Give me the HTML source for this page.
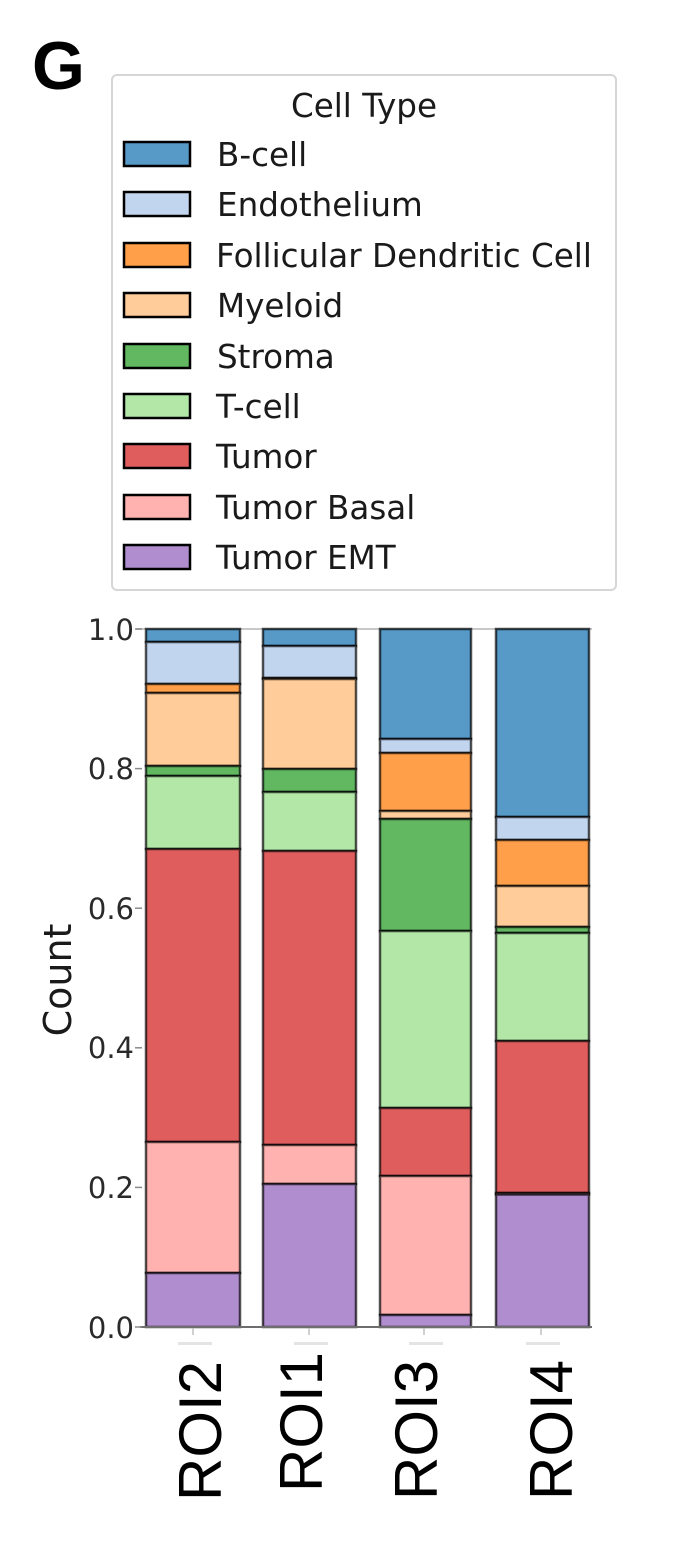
<!DOCTYPE html>
<html>
<head>
<meta charset="utf-8">
<style>
html,body{margin:0;padding:0;background:#fff;}
svg{display:block;}
</style>
</head>
<body>
<svg width="688" height="1545" viewBox="0 0 688 1545" xmlns="http://www.w3.org/2000/svg">
<rect width="688" height="1545" fill="#fff"/>

<!-- Panel letter -->
<text x="32" y="89" font-family="Liberation Sans, Arial, sans-serif" font-weight="bold" font-size="68" fill="#000">G</text>

<!-- Legend -->
<rect x="112" y="75" width="504" height="515" rx="5" ry="5" fill="#fff" stroke="#d6d6d6" stroke-width="2"/>
<g font-family="DejaVu Sans, Liberation Sans, sans-serif" font-size="32.6" fill="#1a1a1a">
<text x="364" y="117" text-anchor="middle">Cell Type</text>
<g stroke="#000" stroke-width="2.5">
<rect x="124" y="142" width="66" height="24" fill="#5799c7"/>
<rect x="124" y="192" width="66" height="24" fill="#c2d5ee"/>
<rect x="124" y="243" width="66" height="24" fill="#ff9f4a"/>
<rect x="124" y="293" width="66" height="24" fill="#ffcc9a"/>
<rect x="124" y="344" width="66" height="24" fill="#61b861"/>
<rect x="124" y="394" width="66" height="24" fill="#b2e7a7"/>
<rect x="124" y="444" width="66" height="24" fill="#e05d5e"/>
<rect x="124" y="495" width="66" height="24" fill="#ffb2b0"/>
<rect x="124" y="545" width="66" height="24" fill="#af8dce"/>
</g>
<text x="217" y="166">B-cell</text>
<text x="217" y="216">Endothelium</text>
<text x="216" y="267">Follicular Dendritic Cell</text>
<text x="217" y="317">Myeloid</text>
<text x="217" y="368">Stroma</text>
<text x="216" y="418">T-cell</text>
<text x="216" y="468">Tumor</text>
<text x="216" y="519">Tumor Basal</text>
<text x="216" y="569">Tumor EMT</text>
</g>

<!-- Axes frame lines -->
<line x1="136" y1="629" x2="592" y2="629" stroke="#c8c8c8" stroke-width="2"/>

<!-- Bars -->
<g stroke="rgba(0,0,0,0.68)" stroke-width="2.5">
<!-- ROI2 -->
<rect x="146" y="629" width="94" height="13" fill="#5799c7"/>
<rect x="146" y="642" width="94" height="42" fill="#c2d5ee"/>
<rect x="146" y="684" width="94" height="9" fill="#ff9f4a"/>
<rect x="146" y="693" width="94" height="73" fill="#ffcc9a"/>
<rect x="146" y="766" width="94" height="10" fill="#61b861"/>
<rect x="146" y="776" width="94" height="73" fill="#b2e7a7"/>
<rect x="146" y="849" width="94" height="293" fill="#e05d5e"/>
<rect x="146" y="1142" width="94" height="131" fill="#ffb2b0"/>
<rect x="146" y="1273" width="94" height="54" fill="#af8dce"/>
<!-- ROI1 -->
<rect x="263" y="629" width="93" height="17" fill="#5799c7"/>
<rect x="263" y="646" width="93" height="32" fill="#c2d5ee"/>
<rect x="263" y="678" width="93" height="1" fill="#ff9f4a"/>
<rect x="263" y="679" width="93" height="90" fill="#ffcc9a"/>
<rect x="263" y="769" width="93" height="23" fill="#61b861"/>
<rect x="263" y="792" width="93" height="59" fill="#b2e7a7"/>
<rect x="263" y="851" width="93" height="294" fill="#e05d5e"/>
<rect x="263" y="1145" width="93" height="39" fill="#ffb2b0"/>
<rect x="263" y="1184" width="93" height="143" fill="#af8dce"/>
<!-- ROI3 -->
<rect x="380" y="629" width="91" height="110" fill="#5799c7"/>
<rect x="380" y="739" width="91" height="14" fill="#c2d5ee"/>
<rect x="380" y="753" width="91" height="58" fill="#ff9f4a"/>
<rect x="380" y="811" width="91" height="8" fill="#ffcc9a"/>
<rect x="380" y="819" width="91" height="112" fill="#61b861"/>
<rect x="380" y="931" width="91" height="177" fill="#b2e7a7"/>
<rect x="380" y="1108" width="91" height="68" fill="#e05d5e"/>
<rect x="380" y="1176" width="91" height="139" fill="#ffb2b0"/>
<rect x="380" y="1315" width="91" height="12" fill="#af8dce"/>
<!-- ROI4 -->
<rect x="496" y="629" width="93" height="188" fill="#5799c7"/>
<rect x="496" y="817" width="93" height="23" fill="#c2d5ee"/>
<rect x="496" y="840" width="93" height="46" fill="#ff9f4a"/>
<rect x="496" y="886" width="93" height="41" fill="#ffcc9a"/>
<rect x="496" y="927" width="93" height="6" fill="#61b861"/>
<rect x="496" y="933" width="93" height="108" fill="#b2e7a7"/>
<rect x="496" y="1041" width="93" height="152" fill="#e05d5e"/>
<rect x="496" y="1193" width="93" height="1.5" fill="#ffb2b0"/>
<rect x="496" y="1194.5" width="93" height="132.5" fill="#af8dce"/>
</g>

<!-- bottom spine -->
<line x1="140" y1="1327" x2="592" y2="1327" stroke="#6e6e6e" stroke-width="2"/>

<!-- Y ticks -->
<g stroke="#8a8a8a" stroke-width="1.5">
<line x1="135" y1="629" x2="142" y2="629"/>
<line x1="135" y1="768.6" x2="142" y2="768.6"/>
<line x1="135" y1="908.2" x2="142" y2="908.2"/>
<line x1="135" y1="1047.8" x2="142" y2="1047.8"/>
<line x1="135" y1="1187.4" x2="142" y2="1187.4"/>
<line x1="135" y1="1327" x2="142" y2="1327"/>
</g>
<g font-family="DejaVu Sans, Liberation Sans, sans-serif" font-size="29" fill="#2a2a2a" text-anchor="end">
<text x="134" y="640">1.0</text>
<text x="134" y="779">0.8</text>
<text x="134" y="919">0.6</text>
<text x="134" y="1058">0.4</text>
<text x="134" y="1198">0.2</text>
<text x="134" y="1338">0.0</text>
</g>
<text transform="translate(71,980) rotate(-90)" font-family="DejaVu Sans, Liberation Sans, sans-serif" font-size="38" fill="#1a1a1a" text-anchor="middle">Count</text>

<!-- X ticks (faint) -->
<g stroke="#c0c0c0" stroke-width="1.5">
<line x1="193" y1="1328" x2="193" y2="1335"/>
<line x1="309" y1="1328" x2="309" y2="1335"/>
<line x1="424" y1="1328" x2="424" y2="1335"/>
<line x1="541" y1="1328" x2="541" y2="1335"/>
</g>
<g fill="#e4e4e4">
<rect x="178" y="1342" width="34" height="3"/>
<rect x="294" y="1342" width="34" height="3"/>
<rect x="409" y="1342" width="34" height="3"/>
<rect x="526" y="1342" width="34" height="3"/>
</g>

<!-- X labels -->
<g font-family="Liberation Sans, Arial, sans-serif" font-size="60" fill="#000">
<text transform="translate(221,1501) rotate(-90)">ROI2</text>
<text transform="translate(322,1492) rotate(-90)">ROI1</text>
<text transform="translate(437,1500) rotate(-90)">ROI3</text>
<text transform="translate(572,1500) rotate(-90)">ROI4</text>
</g>
</svg>
</body>
</html>
